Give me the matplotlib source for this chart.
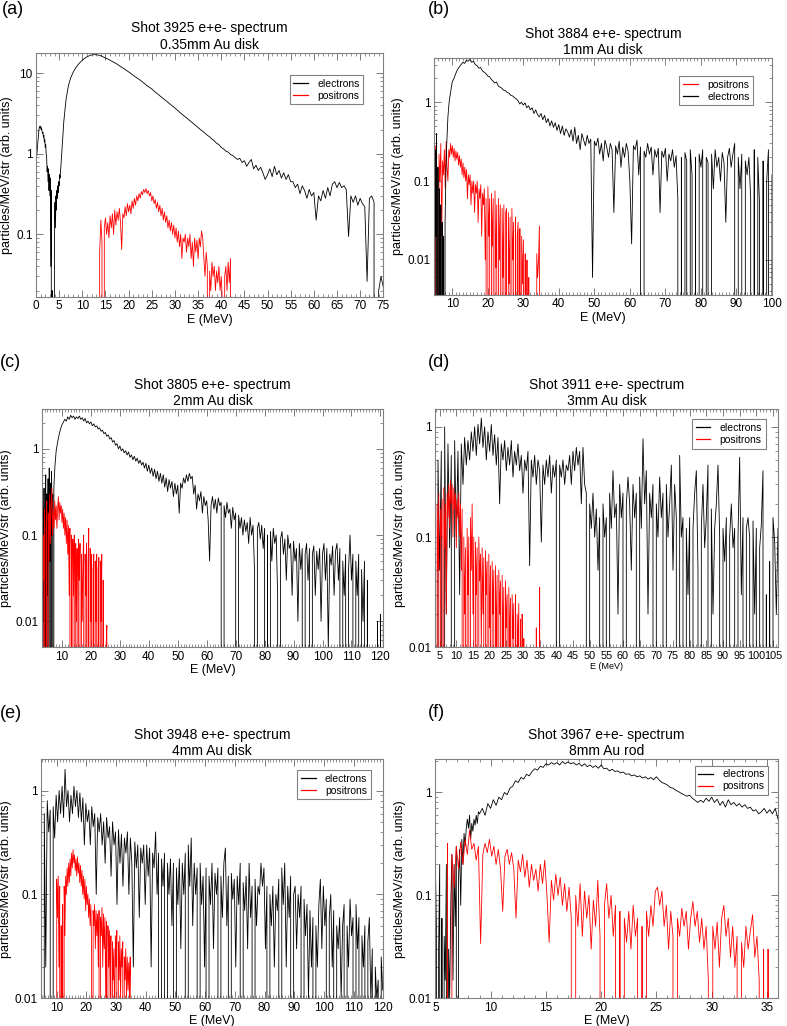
import numpy as np
import matplotlib
matplotlib.use("Agg")
import matplotlib.pyplot as plt
from matplotlib.ticker import MultipleLocator, LogLocator, FuncFormatter, NullFormatter

plt.rcParams['font.family'] = ['Liberation Sans', 'DejaVu Sans']

# ---- spectra (E0, bin width, values); 0 = empty bin ----
# (a) shot 3925, 0.35mm Au disk
a_ele_low = (0.0, 0.1, [
    0.8, 0.9, 1.0, 1.2, 1.4, 1.6, 1.9, 2.1, 2.2, 2.1,
    2.2, 2.0, 2.1, 1.9, 1.8, 1.85, 1.6, 1.7, 1.4, 1.5,
    1.2, 1.3, 1.0, 0.9, 0.6, 0.7, 0.45, 0.65, 0.35, 0.55,
    0.3, 0.5, 0.04, 0.35, 0, 0.02, 0, 0, 0.01, 0,
    0.15, 0.25, 0.12, 0.3, 0.2, 0.35, 0.28, 0.4, 0.33, 0.45,
    0.4, 0.55, 0.5, 0.6, 0.75, 0.9, 1.1, 1.4, 1.7, 2.1,
    2.5])
a_ele_high = (6.5, 0.5, [
    4.8, 7.0, 8.8, 10.2, 11.5, 12.6, 13.6, 14.5,
    15.3, 16.0, 16.5, 16.9, 17.0, 17.0, 16.8, 16.5, 16.0, 15.5,
    15.0, 14.5, 14.0, 13.5, 13.0, 12.4, 11.9, 11.4, 10.9, 10.4,
    9.9, 9.4, 9.0, 8.6, 8.2, 7.8, 7.4, 7.0, 6.7, 6.4,
    6.0, 5.7, 5.4, 5.1, 4.85, 4.6, 4.35, 4.1, 3.9, 3.7,
    3.5, 3.3, 3.1, 2.95, 2.8, 2.65, 2.5, 2.38, 2.25, 2.12,
    2.0, 1.9, 1.8, 1.7, 1.62, 1.52, 1.45, 1.35, 1.3, 1.2,
    1.15, 1.08, 1.05, 0.98, 0.95, 0.9, 0.85, 0.88, 0.78, 0.82,
    0.7, 0.78, 0.85, 0.65, 0.72, 0.62, 0.68, 0.58, 0.48, 0.55,
    0.65, 0.52, 0.7, 0.55, 0.62, 0.5, 0.58, 0.48, 0.55, 0.45,
    0.45, 0.38, 0.42, 0.32, 0.4, 0.35, 0.28, 0.36, 0.3, 0.33,
    0.15, 0.3, 0.26, 0.35, 0.28, 0.38, 0.3, 0.42, 0.45, 0.38,
    0.44, 0.38, 0.4, 0.36, 0.094, 0.3, 0.25, 0.3, 0.23, 0.28,
    0.24, 0.22, 0.026, 0.28, 0.3, 0.25, 0, 0.02, 0.03, 0.022])
a_pos = (13.5, 0.25, [
    0, 0.06, 0.15, 0.08, 0, 0.12, 0.16, 0.1, 0.14, 0.09,
    0.17, 0.12, 0.18, 0.1, 0.2, 0.13, 0.19, 0.15, 0.21, 0.14,
    0.065, 0.18, 0.16, 0.22, 0.17, 0.24, 0.19, 0.23, 0.18, 0.26,
    0.21, 0.28, 0.23, 0.3, 0.26, 0.32, 0.28, 0.34, 0.31, 0.36,
    0.33, 0.37, 0.32, 0.35, 0.3, 0.33, 0.26, 0.3, 0.24, 0.27,
    0.21, 0.25, 0.19, 0.23, 0.17, 0.21, 0.15, 0.19, 0.14, 0.17,
    0.12, 0.15, 0.11, 0.14, 0.1, 0.13, 0.09, 0.12, 0.08, 0.11,
    0.07, 0.1, 0.05, 0.09, 0.08, 0.1, 0.06, 0.09, 0.07, 0.1,
    0.05, 0.08, 0.04, 0.09, 0.06, 0.085, 0.05, 0.09, 0.07, 0.11,
    0.09, 0.05, 0.03, 0.06, 0.04, 0, 0.035, 0.02, 0.045, 0.03,
    0.04, 0.02, 0.035, 0.025, 0.04, 0.02, 0.03, 0.015, 0, 0.03,
    0.04, 0.02, 0.045, 0.025, 0.05, 0])

# (b) shot 3884, 1mm Au disk
b_ele_low = (4.8, 0.2, [
    0.35, 0, 0.25, 0.02, 0.4, 0, 0.15, 0, 0.08, 0,
    0.05, 0, 0.03, 0, 0.02, 0, 0.03, 0.1, 0.25, 0.4,
    0.65, 0.85, 1.05, 1.2, 1.4, 1.6])
b_ele_high = (10.0, 0.5, [
    1.8, 2.0, 2.3, 2.6, 2.8, 3.0, 3.2, 3.1, 3.4, 3.3,
    3.5, 3.2, 3.3, 3.0, 2.9, 2.7, 2.75, 2.5, 2.4, 2.3,
    2.15, 2.1, 1.95, 1.85, 1.75, 1.8, 1.6, 1.55, 1.5, 1.42,
    1.4, 1.33, 1.3, 1.22, 1.2, 1.15, 1.1, 1.05, 0.95, 1.0,
    0.92, 0.98, 0.85, 0.9, 0.8, 0.85, 0.72, 0.8, 0.7, 0.65,
    0.72, 0.6, 0.68, 0.55, 0.62, 0.5, 0.58, 0.48, 0.55, 0.44,
    0.52, 0.4, 0.5, 0.38, 0.46, 0.42, 0.36, 0.45, 0.32, 0.48,
    0.3, 0.38, 0.25, 0.4, 0.33, 0.28, 0.38, 0.3, 0.34, 0.006,
    0.32, 0.28, 0.35, 0.22, 0.3, 0.18, 0.33, 0.27, 0.2, 0.3,
    0.25, 0.04, 0.28, 0.22, 0.32, 0.15, 0.27, 0.2, 0.3, 0.24,
    0.1, 0.016, 0.28, 0.25, 0.33, 0.12, 0.27, 0, 0.24, 0.2,
    0.3, 0.22, 0.27, 0.12, 0.25, 0.2, 0.26, 0.04, 0.24, 0.2,
    0.26, 0.1, 0.22, 0.18, 0.25, 0.15, 0.21, 0.06, 0, 0.2,
    0, 0.23, 0.18, 0, 0.25, 0.12, 0, 0.2, 0, 0.22,
    0.15, 0.25, 0, 0.2, 0.17, 0, 0.22, 0.08, 0.25, 0.15,
    0.2, 0.1, 0.23, 0.17, 0.03, 0.2, 0.26, 0.15, 0.22, 0.3,
    0, 0.2, 0.08, 0.22, 0, 0.18, 0.12, 0.2, 0.06, 0,
    0.25, 0, 0.2, 0.05, 0, 0.18, 0, 0.1, 0.25, 0,
    0.12])
b_pos = (4.8, 0.25, [
    0.2, 0, 0.28, 0.05, 0.15, 0, 0.22, 0.1, 0.3, 0.02,
    0.18, 0.12, 0.25, 0.08, 0.32, 0.15, 0.1, 0.25, 0.2, 0.3,
    0.22, 0.28, 0.2, 0.26, 0.18, 0.24, 0.19, 0.23, 0.16, 0.21,
    0.15, 0.19, 0.12, 0.17, 0.11, 0.15, 0.1, 0.14, 0.06, 0.12,
    0.09, 0.12, 0.05, 0.1, 0.07, 0.1, 0.04, 0.09, 0.07, 0.1,
    0.03, 0.08, 0.06, 0.09, 0.02, 0.07, 0.05, 0.08, 0.01, 0.06,
    0, 0.085, 0.02, 0.06, 0, 0.07, 0.015, 0.06, 0, 0.075,
    0.008, 0.05, 0, 0.06, 0.01, 0.05, 0, 0.045, 0.006, 0.05,
    0, 0.04, 0.045, 0, 0.04, 0.005, 0.035, 0, 0.045, 0.01,
    0.03, 0, 0.035, 0, 0.02, 0.03, 0, 0.025, 0, 0.02,
    0.005, 0.018, 0, 0.012, 0, 0.01, 0, 0.006, 0, 0,
    0, 0, 0, 0, 0, 0, 0.012, 0.006, 0.01, 0.027, 0])

# (c) shot 3805, 2mm Au disk
c_ele_low = (3.0, 0.2, [
    0.3, 0, 0.2, 0.01, 0.35, 0, 0.15, 0.5, 0, 0.3,
    0.02, 0.45, 0, 0.6, 0.05, 0.4, 0, 0.55, 0.1, 0.3,
    0, 0.35, 0.5, 0.65, 0.8])
c_ele_high = (8.0, 0.5, [
    0.95, 1.2, 1.45, 1.7, 1.9, 2.05, 2.2, 2.1, 2.35, 2.2,
    2.45, 2.3, 2.4, 2.2, 2.35, 2.25, 2.4, 2.2, 2.3, 2.1,
    2.25, 2.0, 2.1, 1.95, 2.05, 1.85, 1.95, 1.8, 1.85, 1.7,
    1.75, 1.6, 1.65, 1.5, 1.55, 1.4, 1.45, 1.3, 1.35, 1.2,
    1.25, 1.1, 1.15, 1.0, 1.08, 0.95, 1.0, 0.9, 0.95, 0.85,
    0.92, 0.8, 0.85, 0.75, 0.82, 0.72, 0.78, 0.68, 0.74, 0.65,
    0.7, 0.6, 0.68, 0.55, 0.65, 0.52, 0.6, 0.48, 0.58, 0.45,
    0.55, 0.42, 0.52, 0.4, 0.5, 0.36, 0.46, 0.32, 0.44, 0.35,
    0.42, 0.28, 0.4, 0.3, 0.38, 0.18, 0.4, 0.35, 0.46, 0.4,
    0.5, 0.42, 0.52, 0.45, 0.48, 0.3, 0.38, 0.2, 0.3, 0.25,
    0.32, 0.18, 0.28, 0.22, 0.25, 0.15, 0.05, 0.22, 0.28, 0.2,
    0.26, 0.18, 0.27, 0.22, 0.24, 0, 0.22, 0.16, 0.24, 0.18,
    0.2, 0.12, 0.21, 0.15, 0.18, 0, 0.17, 0.12, 0.16, 0.1,
    0.15, 0.11, 0.14, 0.08, 0.16, 0.1, 0.13, 0.04, 0, 0.12,
    0.14, 0.09, 0.13, 0.07, 0.12, 0, 0.1, 0, 0.11, 0.05,
    0.12, 0.08, 0.1, 0.02, 0, 0.09, 0.11, 0.06, 0.09, 0.03,
    0.1, 0.07, 0.08, 0.02, 0.085, 0.05, 0.07, 0.01, 0.08, 0.04,
    0.07, 0, 0.06, 0.08, 0.03, 0.07, 0, 0.06, 0.075, 0.02,
    0.065, 0.04, 0.07, 0.01, 0.06, 0.08, 0.03, 0.07, 0.005, 0.06,
    0.045, 0.075, 0.02, 0.065, 0.08, 0.03, 0.07, 0, 0.05, 0.02,
    0.06, 0, 0.04, 0.1, 0.03, 0.06, 0, 0.05, 0.02, 0.06,
    0, 0.04, 0.01, 0.05, 0, 0.03, 0, 0, 0, 0,
    0, 0, 0.01, 0, 0.012, 0, 0.01])
c_pos = (3.0, 0.25, [
    0.15, 0, 0.1, 0.03, 0.2, 0, 0.12, 0.25, 0, 0.18,
    0.05, 0.3, 0.08, 0.22, 0.35, 0.1, 0.2, 0.12, 0.25, 0.15,
    0.22, 0.12, 0.2, 0.28, 0.15, 0.24, 0.18, 0.22, 0.14, 0.2,
    0.12, 0.18, 0.1, 0.16, 0.08, 0.15, 0.06, 0.13, 0.02, 0.12,
    0, 0.1, 0, 0.09, 0.02, 0.1, 0, 0.08, 0.01, 0.07,
    0, 0.09, 0.03, 0.08, 0, 0.06, 0.01, 0.05, 0.1, 0,
    0.06, 0.02, 0.08, 0, 0.05, 0.12, 0, 0.07, 0.01, 0.06,
    0, 0.04, 0.06, 0, 0.05, 0.01, 0.06, 0, 0.04, 0.055,
    0, 0.05, 0.01, 0.06, 0, 0.03, 0, 0, 0, 0.005,
    0.009, 0])

# (d) shot 3911, 3mm Au disk
d_ele = (3.5, 0.5, [
    0.2, 0, 0.5, 0.05, 0.6, 0, 1.0, 0.02, 0.7, 0.08,
    0.55, 0, 0.75, 0.1, 0.6, 0.03, 0.7, 0.3, 0.8, 0.45,
    0.75, 0.5, 0.9, 0.6, 1.0, 0.55, 1.05, 0.7, 1.2, 0.65,
    1.0, 0.5, 0.9, 0.6, 1.05, 0.55, 0.85, 0.45, 0.8, 0.2,
    0.7, 0.5, 0.75, 0.4, 0.65, 0.45, 0.75, 0.35, 0.6, 0.45,
    0.7, 0.4, 0.55, 0.25, 0.5, 0.4, 0.6, 0.055, 0.5, 0.35,
    0.55, 0.3, 0.5, 0.4, 0.09, 0.45, 0.3, 0.5, 0.35, 0.55,
    0.25, 0.45, 0.35, 0.5, 0, 0.45, 0.35, 0.5, 0.3, 0.45,
    0.4, 0.55, 0.3, 0.6, 0.4, 0.65, 0.45, 0.6, 0.2, 0.65,
    0.3, 0.25, 0, 0.2, 0.12, 0.25, 0.1, 0.18, 0.05, 0.15,
    0, 0.2, 0.1, 0.15, 0, 0.25, 0.12, 0.4, 0.15, 0.2,
    0.02, 0.3, 0.15, 0.25, 0, 0.2, 0.35, 0.2, 0.05, 0.3,
    0.15, 0.25, 0, 0.35, 0.12, 0.78, 0.2, 0.4, 0.02, 0.25,
    0.15, 0.3, 0, 0.2, 0.1, 0.35, 0.15, 0.25, 0, 0.3,
    0.1, 0.2, 0.45, 0.05, 0.3, 0.15, 0, 0.55, 0.1, 0.15,
    0, 0.12, 0.03, 0.15, 0, 0.12, 0.25, 0.4, 0.05, 0,
    0.12, 0.3, 0.08, 0.15, 0.45, 0, 0.18, 0.02, 0.12, 0.2,
    0.45, 0.1, 0, 0.12, 0.06, 0.15, 0, 0.1, 0.2, 0.08,
    0.12, 0, 0.1, 0.53, 0.03, 0.15, 0, 0.12, 0.15, 0.1,
    0, 0.14, 0.02, 0.12, 0, 0.08, 0.13, 0.4, 0, 0.03,
    0, 0.06, 0, 0.15, 0.09, 0.02, 0.12])
d_pos = (3.75, 0.25, [
    0.15, 0, 0.2, 0.05, 0.25, 0, 0.18, 0.1, 0.22, 0,
    0.28, 0.08, 0.2, 0.02, 0.25, 0.15, 0.3, 0.12, 0.33, 0.2,
    0.3, 0.1, 0.28, 0.18, 0.25, 0.08, 0.22, 0.15, 0.25, 0.1,
    0.2, 0.05, 0.18, 0, 0.1, 0.02, 0.08, 0, 0.12, 0.03,
    0.1, 0, 0.15, 0.05, 0.2, 0.02, 0.1, 0, 0.09, 0.03,
    0.08, 0, 0.1, 0.04, 0.07, 0.01, 0.08, 0.02, 0.065, 0,
    0.075, 0.03, 0.06, 0, 0.07, 0.015, 0.055, 0, 0.06, 0.02,
    0.05, 0, 0.055, 0.01, 0.045, 0, 0.05, 0.02, 0.04, 0,
    0.045, 0.01, 0.035, 0, 0.04, 0.015, 0.03, 0, 0.035, 0.01,
    0.028, 0, 0.03, 0.012, 0.025, 0, 0.03, 0, 0.02, 0.01,
    0.025, 0, 0.018, 0, 0.02, 0, 0.012, 0, 0, 0,
    0, 0, 0, 0, 0, 0, 0, 0, 0, 0,
    0, 0.015, 0, 0, 0, 0.035, 0])

# (e) shot 3948, 4mm Au disk
e_ele = (4.8, 0.5, [
    0.7, 0, 0.6, 0.02, 0.8, 0.4, 0.65, 0, 0.7, 0.35,
    0.9, 0.5, 1.0, 0.6, 1.1, 0.55, 1.6, 0.7, 1.0, 0.5,
    0.9, 0.6, 1.1, 0.7, 1.0, 0.55, 0.95, 0.5, 0.85, 0.3,
    0.75, 0.5, 0.65, 0.3, 0.7, 0.45, 0.6, 0.1, 0.55, 0.4,
    0.6, 0.3, 0.5, 0.2, 0.55, 0.35, 0.45, 0.15, 0.5, 0.3,
    0.4, 0.08, 0.42, 0.2, 0.38, 0.12, 0.35, 0.25, 0.4, 0.1,
    0.35, 0.2, 0.02, 0.32, 0.18, 0.3, 0.06, 0.28, 0.2, 0.3,
    0.08, 0.3, 0.15, 0.28, 0.02, 0.25, 0.18, 0.4, 0.1, 0.25,
    0, 0.22, 0.12, 0.25, 0, 0.2, 0.1, 0.22, 0.05, 0.2,
    0, 0.18, 0.08, 0.22, 0.03, 0.2, 0.1, 0.25, 0, 0.3,
    0.12, 0.35, 0.05, 0.2, 0.1, 0.18, 0, 0.2, 0.08, 0.15,
    0.02, 0.18, 0, 0.15, 0.08, 0.2, 0.03, 0.16, 0.1, 0.18,
    0, 0.15, 0.06, 0.2, 0.28, 0.05, 0.15, 0, 0.16, 0.09,
    0.14, 0.02, 0.15, 0.08, 0.2, 0, 0.13, 0.07, 0.15, 0.03,
    0.2, 0.06, 0.12, 0, 0.14, 0.05, 0.12, 0.1, 0.2, 0.12,
    0.18, 0.03, 0.12, 0, 0.1, 0.05, 0.12, 0.02, 0.1, 0.07,
    0.14, 0, 0.18, 0.08, 0.2, 0.02, 0.12, 0.06, 0.15, 0,
    0.1, 0.12, 0.03, 0.1, 0.06, 0.12, 0, 0.09, 0.04, 0.08,
    0.01, 0.07, 0.02, 0.06, 0, 0.05, 0.02, 0.08, 0.14, 0.03,
    0.12, 0.05, 0.09, 0, 0.06, 0.1, 0.02, 0.07, 0, 0.05,
    0.03, 0.06, 0.01, 0.05, 0.08, 0, 0.05, 0.02, 0.09, 0.04,
    0.06, 0, 0.08, 0.03, 0.06, 0, 0.04, 0.02, 0.05, 0,
    0.035, 0.06, 0.01, 0.03, 0, 0.02, 0.01, 0.015, 0, 0.025,
    0.012])
e_pos = (9.75, 0.25, [
    0, 0.14, 0.06, 0.15, 0.02, 0.12, 0, 0.05, 0, 0.08,
    0, 0.12, 0.04, 0.15, 0.1, 0.18, 0.12, 0.2, 0.13, 0.22,
    0.15, 0.25, 0.18, 0.27, 0.2, 0.24, 0.17, 0.22, 0.15, 0.23,
    0.16, 0.2, 0.13, 0.19, 0.12, 0.17, 0.1, 0.15, 0.09, 0.14,
    0.07, 0.12, 0.08, 0.1, 0.06, 0.09, 0.05, 0.08, 0.03, 0,
    0.07, 0.05, 0.08, 0.03, 0.07, 0.04, 0.065, 0.02, 0.07, 0,
    0.06, 0.04, 0.075, 0.02, 0.065, 0.03, 0.06, 0.01, 0.055, 0,
    0.05, 0.02, 0.045, 0.01, 0.04, 0, 0.035, 0.015, 0.03, 0.005,
    0.04, 0.02, 0.045, 0, 0.035, 0.015, 0.04, 0.01, 0.03, 0.02,
    0.035, 0, 0.025, 0.015, 0.03, 0.01, 0.025, 0.012, 0.022, 0.01,
    0.025, 0, 0])

# (f) shot 3967, 8mm Au rod
f_ele_low = (5.0, 0.1, [
    0.22, 0.05, 0, 0.03, 0.2, 0, 0.06, 0, 0.04, 0.015,
    0.2, 0, 0.03, 0.01, 0.08, 0.25, 0.015, 0.2, 0.05, 0.3,
    0, 0.15, 0.28, 0.08, 0.35, 0.2, 0.4, 0.3, 0.45, 0.55,
    0.45, 0.6, 0.35, 0.5, 0.42, 0.55, 0.48, 0.6, 0.5, 0.65])
f_ele_high = (9.0, 0.25, [
    0.62, 0.7, 0.6, 0.78, 0.7, 0.85, 0.75, 0.9, 0.85, 1.0,
    0.95, 1.1, 1.15, 1.3, 1.25, 1.4, 1.35, 1.5, 1.45, 1.6,
    1.7, 1.65, 1.8, 1.75, 1.9, 1.85, 1.95, 1.88, 1.95, 1.85,
    2.0, 1.9, 1.98, 1.9, 1.95, 1.85, 1.92, 1.8, 1.9, 1.78,
    1.85, 1.75, 1.82, 1.72, 1.85, 1.7, 1.72, 1.62, 1.68, 1.6,
    1.62, 1.55, 1.58, 1.5, 1.52, 1.45, 1.48, 1.42, 1.45, 1.38,
    1.42, 1.35, 1.4, 1.33, 1.42, 1.32, 1.25, 1.22, 1.18, 1.12,
    1.1, 1.05, 1.02, 0.98, 0.95, 0.92, 0.94, 0.88, 0.84, 0.8,
    0.84, 0.8, 0.88, 0.82, 0.9, 0.8, 0.86, 0.75, 0.82, 0.72,
    0.85, 0.76, 0.8, 0.74, 0.78, 0.72, 0.76, 0.7, 0.72, 0.66,
    0.68, 0.62, 0.65, 0.7, 0.63, 0.68, 0.62, 0.7, 0.55])
f_pos = (5.9, 0.2, [
    0, 0.32, 0, 0.25, 0.12, 0.3, 0.18, 0.33, 0.2, 0.35,
    0.25, 0.43, 0.28, 0.32, 0.22, 0.3, 0.034, 0.25, 0.32, 0.26,
    0.35, 0.24, 0.3, 0.2, 0.28, 0.18, 0.07, 0.24, 0.28, 0.2,
    0.26, 0.18, 0.06, 0.22, 0.17, 0.25, 0.15, 0.22, 0.12, 0.2,
    0.14, 0.18, 0.11, 0.2, 0.13, 0.22, 0.1, 0.035, 0.14, 0.09,
    0.16, 0.1, 0.15, 0.08, 0.13, 0.07, 0.12, 0.06, 0, 0.1,
    0.05, 0.13, 0.04, 0.11, 0.06, 0.1, 0.03, 0.09, 0.05, 0.14,
    0.04, 0, 0.08, 0.13, 0.06, 0.1, 0.04, 0.08, 0, 0.07,
    0, 0.06, 0.035, 0.07, 0.03, 0.08, 0.04, 0.06, 0, 0.05,
    0, 0.07, 0.04, 0.08, 0.05, 0.11, 0.12, 0.08, 0.11, 0.05,
    0.08, 0.03, 0.07, 0.04, 0, 0.06, 0.04, 0.075, 0.05, 0.07,
    0.03, 0.06, 0.087, 0.05, 0.07, 0.035, 0.06, 0.03, 0.05, 0.015,
    0, 0.05, 0.03, 0.055, 0.02, 0.06, 0.08, 0.04, 0.06, 0.025,
    0.05, 0.02, 0.04, 0, 0.035, 0.02, 0.05, 0.03, 0.045, 0.065,
    0.025, 0.04, 0.015, 0, 0.03, 0, 0.03, 0])


def spectrum(*segments):
    xs, ys = [], []
    for e0, de, vals in segments:
        xs.append(e0 + de * np.arange(len(vals)))
        ys.append(np.array(vals, dtype=float))
    return np.concatenate(xs), np.concatenate(ys)


W, H = 787, 1026
fig = plt.figure(figsize=(W / 100, H / 100), dpi=100)


def rect(x0, y0, x1, y1):
    return [x0 / W, 1 - y1 / H, (x1 - x0) / W, (y1 - y0) / H]


panels = [
    dict(tag='(a)', tag_xy=(2, 1), rect=rect(36, 52.7, 383.3, 296.7),
         title='Shot 3925 e+e- spectrum\n0.35mm Au disk', xlim=(0, 75), ylim=(0.0168, 18),
         xmajor=5, series=[(spectrum(a_ele_low, a_ele_high), 'black', 'electrons'),
                           (spectrum(a_pos), 'red', 'positrons')],
         legend=(0.942, 0.909), xlsize=9, xtsize=8.5),
    dict(tag='(b)', tag_xy=(428, 1), rect=rect(433.7, 58.3, 772, 295),
         title='Shot 3884 e+e- spectrum\n1mm Au disk', xlim=(4.8, 100), ylim=(0.0036, 3.6),
         xmajor=10, series=[(spectrum(b_pos), 'red', 'positrons'),
                            (spectrum(b_ele_low, b_ele_high), 'black', 'electrons')],
         legend=(0.944, 0.925), xlsize=9, xtsize=8.5),
    dict(tag='(c)', tag_xy=(0, 354), rect=rect(41.7, 409, 383.3, 647.3),
         title='Shot 3805 e+e- spectrum\n2mm Au disk', xlim=(3, 121), ylim=(0.005, 2.9),
         xmajor=10, series=[(spectrum(c_ele_low, c_ele_high), 'black', 'electrons'),
                            (spectrum(c_pos), 'red', 'positrons')],
         legend=None, xlsize=9, xtsize=8.5),
    dict(tag='(d)', tag_xy=(428, 354), rect=rect(435.3, 409, 778, 647.3),
         title='Shot 3911 e+e- spectrum\n3mm Au disk', xlim=(3.7, 106.5), ylim=(0.01, 1.45),
         xmajor=5, series=[(spectrum(d_ele), 'black', 'electrons'),
                           (spectrum(d_pos), 'red', 'positrons')],
         legend=(0.964, 0.957), xlsize=6.5, xtsize=7.8),
    dict(tag='(e)', tag_xy=(0, 705), rect=rect(41.3, 759.3, 383.3, 998.3),
         title='Shot 3948 e+e- spectrum\n4mm Au disk', xlim=(4.8, 120), ylim=(0.01, 2.0),
         xmajor=10, series=[(spectrum(e_ele), 'black', 'electrons'),
                            (spectrum(e_pos), 'red', 'positrons')],
         legend=(0.964, 0.955), xlsize=9, xtsize=8.5),
    dict(tag='(f)', tag_xy=(428, 704), rect=rect(435.3, 759.3, 778, 998.3),
         title='Shot 3967 e+e- spectrum\n8mm Au rod', xlim=(5, 36), ylim=(0.01, 2.1),
         xmajor=5, series=[(spectrum(f_ele_low, f_ele_high), 'black', 'electrons'),
                           (spectrum(f_pos), 'red', 'positrons')],
         legend=(0.972, 0.973), xlsize=9, xtsize=8.5),
]

for p in panels:
    ax = fig.add_axes(p['rect'])
    for (x, y), color, label in p['series']:
        ax.plot(x, y, color=color, lw=0.6, label=label)
    ax.set_yscale('log', nonpositive='clip')
    ax.set_xlim(*p['xlim'])
    ax.set_ylim(*p['ylim'])
    ax.xaxis.set_major_locator(MultipleLocator(p['xmajor']))
    ax.xaxis.set_minor_locator(MultipleLocator(1))
    ax.yaxis.set_major_locator(LogLocator(base=10, numticks=10))
    ax.yaxis.set_minor_locator(LogLocator(base=10, subs=np.arange(2, 10), numticks=20))
    ax.yaxis.set_major_formatter(FuncFormatter(lambda v, pos: f'{v:g}'))
    ax.yaxis.set_minor_formatter(NullFormatter())
    ax.tick_params(which='both', direction='in', top=True, right=True,
                   color='0.4', labelsize=8.5, pad=2.5)
    ax.tick_params(axis='x', labelsize=p['xtsize'])
    ax.tick_params(which='major', length=5, width=0.6)
    ax.tick_params(which='minor', length=2.5, width=0.5)
    for s in ax.spines.values():
        s.set_color('0.5')
        s.set_linewidth(0.8)
    ax.set_title(p['title'], fontsize=10, pad=3, linespacing=1.2)
    ax.set_xlabel('E (MeV)', fontsize=p['xlsize'], labelpad=1)
    ax.set_ylabel('particles/MeV/str (arb. units)', fontsize=9, labelpad=2)
    if p['legend'] is not None:
        leg = ax.legend(loc='upper right', bbox_to_anchor=p['legend'], fontsize=7.5,
                        fancybox=False, edgecolor='0.5', framealpha=1, borderaxespad=0,
                        borderpad=0.35, labelspacing=0.2, handlelength=1.4,
                        handletextpad=0.9)
        leg.get_frame().set_linewidth(0.8)
        for h in leg.get_lines():
            h.set_linewidth(0.9)
    tx, ty = p['tag_xy']
    fig.text(tx / W, 1 - ty / H, p['tag'], fontsize=13, va='top', ha='left')

fig.savefig('out.png', dpi=100)
